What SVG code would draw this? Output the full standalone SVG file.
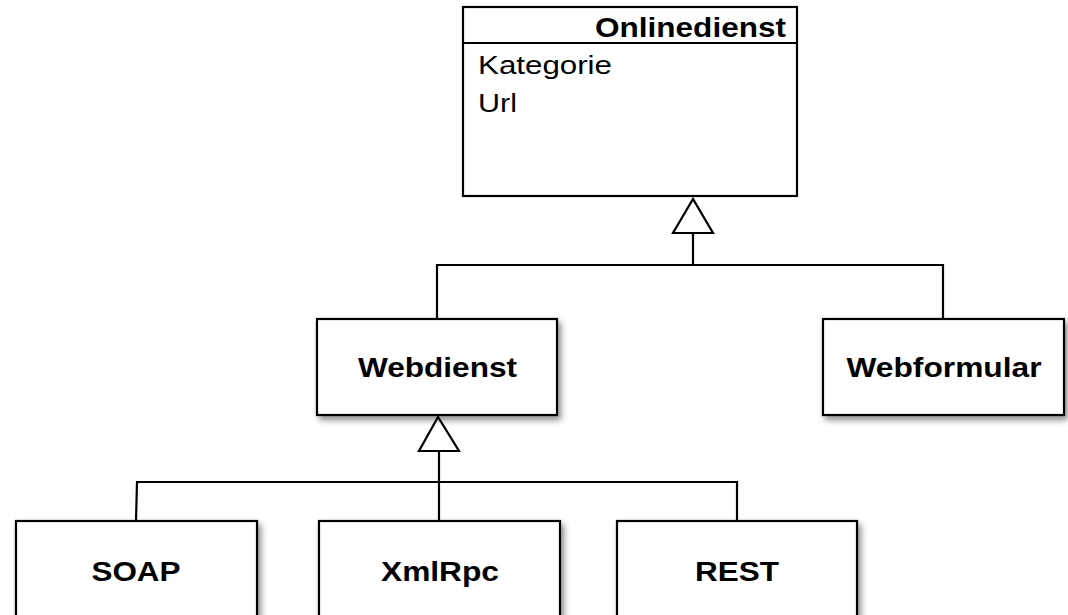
<svg xmlns="http://www.w3.org/2000/svg" width="1068" height="615" viewBox="0 0 1068 615">
<defs>
<filter id="sh" x="-10%" y="-10%" width="130%" height="140%">
<feDropShadow dx="3" dy="4" stdDeviation="3" flood-color="#000" flood-opacity="0.45"/>
</filter>
<style>
.box{fill:#fff;stroke:#000;stroke-width:2.2}
.ln{fill:none;stroke:#000;stroke-width:2.2}
.tri{fill:#fff;stroke:#000;stroke-width:2.2;stroke-linejoin:miter}
.b{font-family:"Liberation Sans",Arial,sans-serif;font-size:27px;font-weight:bold;fill:#000}
.r{font-family:"Liberation Sans",Arial,sans-serif;font-size:26px;fill:#000}
</style>
</defs>
<rect width="1068" height="615" fill="#fff"/>
<g id="connectors">
<polyline class="ln" points="437,319 437,265 943,265 943,319"/>
<line class="ln" x1="693" y1="233" x2="693" y2="265"/>
<polygon class="tri" points="693,199 673,233 713,233"/>
<polyline class="ln" points="136,521 137,482 737,482 737,521"/>
<line class="ln" x1="439" y1="451" x2="439" y2="521"/>
<polygon class="tri" points="438,417 419,451 459,451"/>
</g>
<g id="onlinedienst">
<rect class="box" x="463" y="7" width="334" height="189"/>
<line class="ln" x1="463" y1="43" x2="797" y2="43"/>
<text class="b" x="595" y="37" textLength="191" lengthAdjust="spacingAndGlyphs">Onlinedienst</text>
<text class="r" x="478" y="74" textLength="134" lengthAdjust="spacingAndGlyphs">Kategorie</text>
<text class="r" x="478" y="112" textLength="39" lengthAdjust="spacingAndGlyphs">Url</text>
</g>
<g id="webdienst">
<rect class="box" x="317" y="319" width="240" height="96" filter="url(#sh)"/>
<text class="b" x="437.5" y="377" text-anchor="middle" textLength="159" lengthAdjust="spacingAndGlyphs">Webdienst</text>
</g>
<g id="webformular">
<rect class="box" x="823" y="319" width="241" height="96" filter="url(#sh)"/>
<text class="b" x="944" y="377" text-anchor="middle" textLength="195" lengthAdjust="spacingAndGlyphs">Webformular</text>
</g>
<g id="soap">
<rect class="box" x="16" y="521" width="241" height="120" filter="url(#sh)"/>
<text class="b" x="136" y="581" text-anchor="middle" textLength="89" lengthAdjust="spacingAndGlyphs">SOAP</text>
</g>
<g id="xmlrpc">
<rect class="box" x="319" y="521" width="241" height="120" filter="url(#sh)"/>
<text class="b" x="440" y="581" text-anchor="middle" textLength="118" lengthAdjust="spacingAndGlyphs">XmlRpc</text>
</g>
<g id="rest">
<rect class="box" x="617" y="521" width="240" height="120" filter="url(#sh)"/>
<text class="b" x="737" y="581" text-anchor="middle" textLength="84" lengthAdjust="spacingAndGlyphs">REST</text>
</g>
</svg>
